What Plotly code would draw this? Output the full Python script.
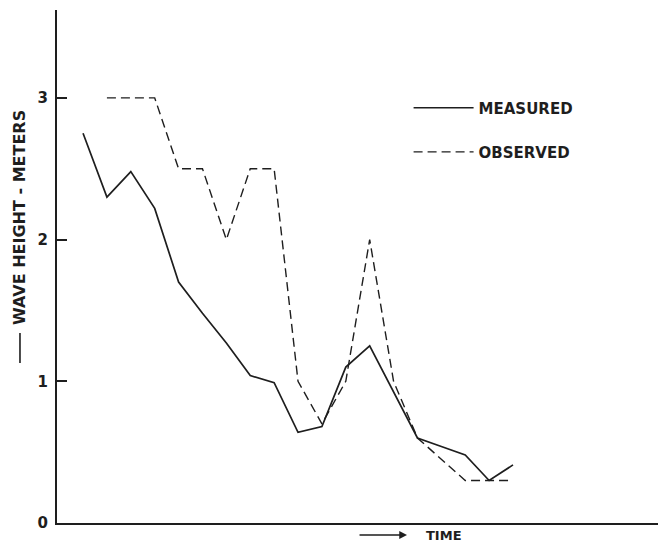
import plotly.graph_objects as go

# Wave height record: measured vs. observed, at regular time steps
time_measured = list(range(0, 19))
measured = [2.75, 2.30, 2.48, 2.22, 1.70, 1.48, 1.27, 1.04, 0.99, 0.64,
            0.68, 1.10, 1.25, 0.93, 0.60, 0.54, 0.48, 0.30, 0.41]

time_observed = list(range(1, 19))
observed = [3.0, 3.0, 3.0, 2.5, 2.5, 2.0, 2.5, 2.5, 1.0, 0.7,
            1.0, 2.0, 1.0, 0.6, 0.45, 0.3, 0.3, 0.3]

y_ticks = [0, 1, 2, 3]
y_tick_labels = ["0", "1", "2", "3"]

INK = "#1e1e1e"
FONT = "DejaVu Sans"

fig = go.Figure()
fig.add_trace(go.Scatter(
    x=time_measured, y=measured, mode="lines", name="MEASURED",
    line=dict(color=INK, width=1.7), legend="legend",
))
fig.add_trace(go.Scatter(
    x=time_observed, y=observed, mode="lines", name="OBSERVED",
    line=dict(color=INK, width=1.4, dash="9px,5px"), legend="legend2",
))

legend_common = dict(
    xanchor="left", yanchor="middle", bgcolor="rgba(0,0,0,0)",
    font=dict(family=FONT, size=15, color=INK, weight="bold"), itemwidth=60,
)

fig.update_layout(
    width=658, height=543,
    margin=dict(l=57, r=0, t=10, b=20),
    paper_bgcolor="white", plot_bgcolor="white",
    showlegend=True,
    legend=dict(x=0.585, y=0.809, **legend_common),
    legend2=dict(x=0.585, y=0.723, **legend_common),
    xaxis=dict(
        range=[-1.09, 24.07], showgrid=False, zeroline=False,
        showticklabels=False, ticks="", showline=True,
        linecolor=INK, linewidth=2,
    ),
    yaxis=dict(
        range=[0, 3.62], showgrid=False, zeroline=False,
        tickvals=y_ticks, ticktext=y_tick_labels,
        ticks="inside", ticklen=10, tickwidth=1.5, tickcolor=INK,
        showline=True, linecolor=INK, linewidth=2,
        tickfont=dict(family=FONT, size=15, color=INK, weight="bold"),
        ticklabelstandoff=4,
    ),
    annotations=[
        dict(text="WAVE HEIGHT - METERS", textangle=-90,
             xref="paper", yref="paper", x=-0.0616, y=0.5965,
             xanchor="center", yanchor="middle", showarrow=False,
             font=dict(family=FONT, size=16, color=INK, weight="bold")),
        dict(text="TIME", xref="paper", yref="paper", x=0.644, y=-0.0234,
             showarrow=False,
             font=dict(family=FONT, size=13, color=INK, weight="bold"),
             yanchor="middle"),
        dict(text="", xref="paper", yref="paper", x=0.5824, y=-0.0234,
             ax=-49, ay=0, showarrow=True, arrowhead=2, arrowsize=1.2,
             arrowwidth=1.3, arrowcolor=INK),
    ],
    shapes=[
        # solid-line key drawn beside the axis title
        dict(type="line", xref="paper", yref="paper",
             x0=-0.0616, x1=-0.0616, y0=0.3119, y1=0.3704,
             line=dict(color=INK, width=1.6)),
    ],
)

fig.write_html("out.html")
